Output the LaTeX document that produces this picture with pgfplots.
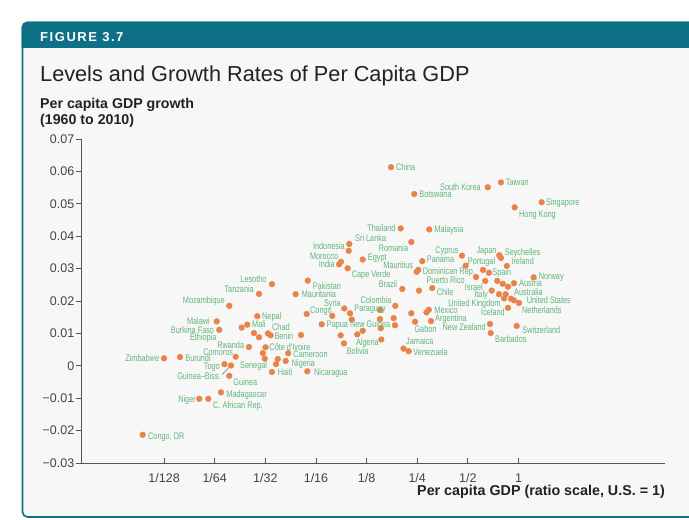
\documentclass[border=0pt]{standalone}
\usepackage{pgfplots}
\pgfplotsset{compat=1.18}
\usepackage{pgfplotstable}
\usepackage{fontspec}
\setmainfont{Liberation Sans}
\newfontfamily\labfont[FakeStretch=0.77]{Liberation Sans}
\newfontfamily\headfont[LetterSpace=12]{Liberation Sans}

\definecolor{teal7}{HTML}{0E7086}
\definecolor{panel}{HTML}{F7F7F7}
\definecolor{dotc}{HTML}{E8834A}
\definecolor{labc}{HTML}{5FB47A}
\definecolor{axc}{HTML}{555555}
\definecolor{txt}{HTML}{222222}

% x: log2 of per capita GDP relative to the U.S., y: growth 1960-2010
% dx, dy: offset of the label from its dot, in bp
% labels that start right of the dot
\pgfplotstableread[col sep=comma]{
name,lx,gy,dx,dy
China,-2.518,0.0613,5,0
Taiwan,-0.346,0.0566,4.7,0
Botswana,-2.058,0.0530,5,-0.3
Singapore,0.458,0.0505,4.3,0
Hong Kong,-0.075,0.0489,4.3,-6.4
Malaysia,-1.762,0.0421,5,0
Sri Lanka,-3.342,0.0376,5.7,5.7
Egypt,-3.077,0.0328,5,2.5
Cape Verde,-3.374,0.0301,4,-5.4
Dominican Rep.,-1.979,0.0296,4.4,-1.7
Panama,-1.900,0.0323,4.4,2
Seychelles,-0.346,0.0333,3.7,6
Portugal,-1.043,0.0309,2,4.7
Ireland,-0.231,0.0308,4.5,5
Spain,-0.583,0.0287,3.3,0.8
Austria,-0.089,0.0255,5,-0.4
Australia,-0.253,0.0221,8.3,1.6
Netherlands,-0.089,0.0202,8,-9.7
United States,0.010,0.0194,7.7,3.3
Norway,0.300,0.0273,5,1.3
Switzerland,-0.036,0.0123,5.6,-3.7
Barbados,-0.549,0.0101,4.3,-5.7
Chile,-1.703,0.0240,4.4,-4.3
Mexico,-1.772,0.0173,5.5,-0.3
Gabon,-2.044,0.0136,-0.7,-7.6
Argentina,-1.728,0.0138,4,3
Paraguay,-2.736,0.0172,-25.7,1.7
Jamaica,-2.271,0.0053,2.5,7.7
Venezuela,-2.169,0.0045,4.6,-0.8
Congo,-4.183,0.0160,3.3,4
Papua New Guinea,-3.887,0.0128,5,0
Bolivia,-3.447,0.0069,2.7,-7.4
Pakistan,-4.162,0.0263,4.9,-5.2
Mauritania,-4.401,0.0221,6,-0.4
Nepal,-5.159,0.0153,4.7,0.3
Mali,-5.357,0.0127,4.7,0.7
Chad,-4.948,0.0100,4,6.3
Benin,-4.894,0.0094,3.6,-0.7
Côte d'Ivoire,-4.997,0.0057,3.8,0.6
Cameroon,-4.549,0.0039,5.1,-0.7
Burundi,-6.686,0.0027,5.3,-1
Nigeria,-4.598,0.0015,6,-2
Haiti,-4.869,-0.0019,5.7,-0.3
Nicaragua,-4.171,-0.0017,6.7,-0.7
Guinea,-5.712,-0.0031,4,-6.7
Madagascar,-5.876,-0.0082,5.3,-1.4
C. African Rep.,-6.127,-0.0102,4.7,-6.3
{Congo, DR},-7.423,-0.0213,5.3,-1.3
}\westlab

% labels that end left of the dot
\pgfplotstableread[col sep=comma]{
name,lx,gy,dx,dy
South Korea,-0.608,0.0551,-6.7,0.6
Thailand,-2.327,0.0424,-5,0
Indonesia,-3.354,0.0355,-3.7,5
Romania,-2.117,0.0382,-3,-5.7
Morocco,-3.506,0.0321,-2.7,5.7
India,-3.545,0.0313,-4,0.6
Mauritius,-2.011,0.0290,-3.4,6.7
Cyprus,-1.116,0.0340,-3.3,5.2
Japan,-0.379,0.0341,-2.6,5.6
Puerto Rico,-0.839,0.0274,-11,-3.5
Israel,-0.656,0.0262,-2.3,-6.3
Italy,-0.529,0.0232,-3.7,-3.6
United Kingdom,-0.286,0.0208,-3.3,-4.4
Iceland,-0.207,0.0179,-3,-4
New Zealand,-0.563,0.0129,-4,-3
Brazil,-2.295,0.0237,-5,5
Colombia,-2.433,0.0185,-3.6,5.7
Algeria,-2.710,0.0081,-2.3,-2.2
Syria,-3.441,0.0177,-3.3,5
Lesotho,-4.869,0.0252,-5.3,5
Tanzania,-5.125,0.0222,-5,5
Mozambique,-5.712,0.0185,-4.3,5.3
Malawi,-5.961,0.0137,-6.7,0
Burkina Faso,-5.910,0.0111,-5,-0.3
Ethiopia,-5.467,0.0118,-25,-10
Rwanda,-5.323,0.0058,-4.7,2.3
Comoros,-5.586,0.0028,-2.4,5
Zimbabwe,-7.002,0.0023,-4.7,0
Togo,-5.807,0.0005,-4.5,-1.7
Guinea–Biss.,-5.678,0.0001,-10,-10.5
Senegal,-4.790,0.0005,-8.7,-1.4
Niger,-6.305,-0.0102,-3.3,-0.7
}\eastlab

% countries drawn without a label
\pgfplotstableread{
lx gy
-0.701 0.0296
-0.419 0.0262
-0.312 0.0253
-0.207 0.0244
-0.385 0.0221
-0.148 0.0207
-1.965 0.0232
-2.117 0.0162
-1.817 0.0165
-2.465 0.0147
-2.439 0.0125
-2.736 0.0144
-2.722 0.0116
-3.328 0.0162
-3.294 0.0143
-3.678 0.0154
-3.077 0.0108
-3.184 0.0097
-3.512 0.0094
-5.224 0.0101
-5.125 0.0088
-4.296 0.0095
-5.050 0.0039
-5.013 0.0022
-4.754 0.0021
}\unnamed

\pgfplotsset{
  dots/.style={only marks, mark=*, mark size=2.9bp, color=dotc, mark options={draw=none, fill=dotc}},
  names/.style={only marks, mark=none, point meta=explicit symbolic, nodes near coords,
    every node near coord/.append style={anchor=#1, inner sep=0pt,
      text height=6.8bp, text depth=0bp,
      font=\labfont\fontsize{9.5bp}{10bp}\selectfont, text=labc}},
}

\begin{document}
\begin{tikzpicture}[x=1bp,y=1bp]
\useasboundingbox (0,0) rectangle (689,520);
\fill[white] (0,0) rectangle (689,520);
\draw[teal7, line width=1.6bp, fill=panel, rounded corners=5bp] (22.5,3) rectangle (720,497.5);
\fill[teal7] (21.7,472) [rounded corners=5bp] -- (21.7,498.3) -- (720,498.3) [sharp corners] -- (720,472) -- cycle;

\node[anchor=base west, inner sep=0, text=white] at (40,478)
  {\headfont\bfseries\fontsize{13bp}{15bp}\selectfont FIGURE 3.7};
\node[anchor=base west, inner sep=0, text=txt] at (40,438)
  {\fontsize{21.7bp}{24bp}\selectfont Levels and Growth Rates of Per Capita GDP};
\node[anchor=base west, inner sep=0, text=txt] at (40,411.5)
  {\bfseries\fontsize{14.2bp}{16bp}\selectfont Per capita GDP growth};
\node[anchor=base west, inner sep=0, text=txt] at (40,395)
  {\bfseries\fontsize{14.2bp}{16bp}\selectfont (1960 to 2010)};
\node[anchor=base east, inner sep=0, text=txt] at (665,24.5)
  {\bfseries\fontsize{14.3bp}{16bp}\selectfont Per capita GDP (ratio scale, U.S. = 1)};

\begin{axis}[
    at={(81bp,57bp)}, anchor=south west,
    scale only axis, width=584bp, height=324bp,
    xmin=-8.641, xmax=2.894, ymin=-0.03, ymax=0.07,
    axis lines=left,
    axis line style={-, draw=axc, line width=0.9bp},
    xtick={-7,-6,-5,-4,-3,-2,-1,0},
    xticklabels={1/128,1/64,1/32,1/16,1/8,1/4,1/2,1},
    ytick={-0.03,-0.02,-0.01,0,0.01,0.02,0.03,0.04,0.05,0.06,0.07},
    yticklabels={−0.03,−0.02,−0.01,0,0.01,0.02,0.03,0.04,0.05,0.06,0.07},
    scaled y ticks=false,
    xtick align=inside, ytick align=outside,
    major tick length=5bp,
    tick style={draw=axc, line width=0.8bp},
    ticklabel style={font=\fontsize{12.5bp}{14bp}\selectfont, text=txt!85},
    yticklabel style={inner xsep=1.5bp},
    xticklabel style={yshift=-7bp},
    clip=false,
    ]
\addplot[dots] table[x=lx, y=gy] {\unnamed};
\addplot[dots] table[x=lx, y=gy] {\westlab};
\addplot[dots] table[x=lx, y=gy] {\eastlab};
\addplot[names=west] table[x expr=\thisrow{lx}+\thisrow{dx}/50.63,
  y expr=\thisrow{gy}+\thisrow{dy}/3240, meta=name] {\westlab};
\addplot[names=east] table[x expr=\thisrow{lx}+\thisrow{dx}/50.63,
  y expr=\thisrow{gy}+\thisrow{dy}/3240, meta=name] {\eastlab};
\draw[black!60, line width=0.6bp] (axis cs:-5.678,0.0001) ++(-2bp,-2bp) -- ++(-7bp,-7bp);
\end{axis}
\end{tikzpicture}
\end{document}
